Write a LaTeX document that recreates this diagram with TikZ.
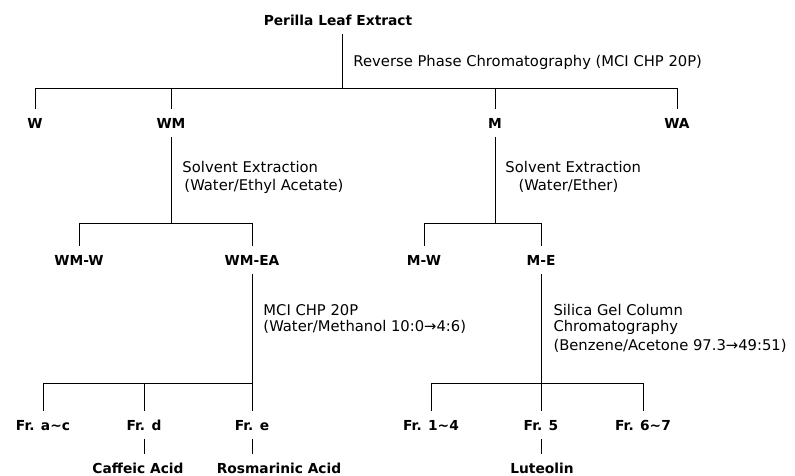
\documentclass[tikz,border=0pt]{standalone}
\usepackage{fontspec}
\setmainfont{DejaVu Sans}
\usepackage{tikz}

\begin{document}
\begin{tikzpicture}[x=0.025cm,y=-0.025cm,line width=0.7pt,
  frac/.style={font=\bfseries\fontsize{9.8}{12}\selectfont,text height=7.4pt,text depth=0pt,inner xsep=2pt,inner ysep=6pt},
  note/.style={anchor=base west,inner sep=0pt,font=\fontsize{10.5}{12}\selectfont}]
\path[use as bounding box] (0,0) rectangle (795,475);
\node[frac] (pe) at (338,20) {Perilla Leaf Extract};
\node[note] (rp) at (353,66) {Reverse Phase Chromatography (MCI CHP 20P)};
\node[frac] (W) at (35,123) {W};
\node[frac] (WM) at (171,123) {WM};
\node[frac] (M) at (495,123) {M};
\node[frac] (WA) at (677,123) {WA};
\node[note] (se1) at (182,172) {Solvent Extraction};
\node[note] (se1b) at (184,190) {(Water/Ethyl Acetate)};
\node[note] (se2) at (505,172) {Solvent Extraction};
\node[note] (se2b) at (518,190) {(Water/Ether)};
\node[frac] (WMW) at (79,260) {WM-W};
\node[frac] (WMEA) at (252,260) {WM-EA};
\node[frac] (MW) at (424,260) {M-W};
\node[frac] (ME) at (541,260) {M-E};
\node[note] (mci) at (263,315) {MCI CHP 20P};
\node[note] (mcib) at (263,331) {(Water/Methanol 10:0→4:6)};
\node[note] (sg) at (553,315) {Silica Gel Column};
\node[note] (sgb) at (553,331) {Chromatography};
\node[note] (sgc) at (553,350) {(Benzene/Acetone 97.3→49:51)};
\node[frac] (Frac) at (43,425) {Fr. a∼c};
\node[frac] (Frd) at (144,425) {Fr. d};
\node[frac] (Fre) at (252,425) {Fr. e};
\node[frac] (Fr14) at (431,425) {Fr. 1∼4};
\node[frac] (Fr5) at (541,425) {Fr. 5};
\node[frac] (Fr67) at (643,425) {Fr. 6∼7};
\node[frac] (caf) at (138,468) {Caffeic Acid};
\node[frac] (ros) at (279,468) {Rosmarinic Acid};
\node[frac] (lut) at (542,468) {Luteolin};
\coordinate (b0) at (342,88);
\coordinate (b1) at (171,223);
\coordinate (b2) at (495,223);
\coordinate (b3) at (252,383);
\coordinate (b4) at (541,383);
\draw (pe.south -| b0) -- (b0);
\draw (W |- b0) -- (WA |- b0);
\foreach \n in {W,WM,M,WA} \draw (\n |- b0) -- (\n.north);
\draw (WM.south) -- (b1);
\draw (WMW |- b1) -- (WMEA |- b1);
\foreach \n in {WMW,WMEA} \draw (\n |- b1) -- (\n.north);
\draw (M.south) -- (b2);
\draw (MW |- b2) -- (ME |- b2);
\foreach \n in {MW,ME} \draw (\n |- b2) -- (\n.north);
\draw (WMEA.south) -- (Fre.north);
\draw (Frac |- b3) -- (b3);
\foreach \n in {Frac,Frd} \draw (\n |- b3) -- (\n.north);
\draw (ME.south) -- (Fr5.north);
\draw (Fr14 |- b4) -- (Fr67 |- b4);
\foreach \n in {Fr14,Fr67} \draw (\n |- b4) -- (\n.north);
\draw (Frd.south) -- (Frd |- caf.north);
\draw (Fre.south) -- (Fre |- ros.north);
\draw (Fr5.south) -- (Fr5 |- lut.north);
\end{tikzpicture}
\end{document}
